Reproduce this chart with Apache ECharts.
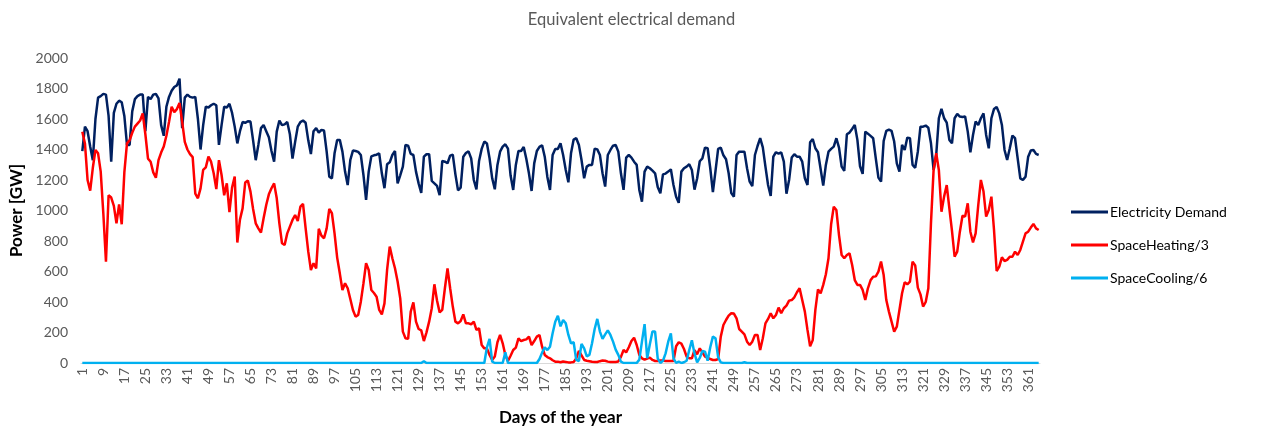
<!DOCTYPE html>
<html>
<head>
<meta charset="utf-8">
<script src="https://cdn.jsdelivr.net/npm/echarts@6/dist/echarts.min.js"></script>
<style>
  html, body { margin: 0; padding: 0; background: #fff; }
  #chart { width: 1263px; height: 428px; }
</style>
</head>
<body>
<div id="chart"></div>
<script>
// Daily equivalent electrical demand over one year, in GW.

const dayCount = 365;
const days = [];
for (let d = 1; d <= dayCount; d++) days.push(String(d));

const electricityDemand = [
  1390, 1550, 1520, 1420, 1330, 1600, 1740, 1750, 1765, 1760,
  1620, 1320, 1640, 1700, 1720, 1710, 1620, 1430, 1430, 1650,
  1730, 1750, 1760, 1760, 1520, 1745, 1730, 1760, 1765, 1735,
  1560, 1490, 1680, 1745, 1785, 1810, 1820, 1865, 1540, 1740,
  1760, 1745, 1740, 1745, 1600, 1400, 1560, 1680, 1675, 1690,
  1700, 1690, 1430, 1560, 1680, 1675, 1700, 1640, 1550, 1440,
  1520, 1580, 1575, 1585, 1583, 1460, 1330, 1430, 1540, 1560,
  1520, 1480, 1390, 1320, 1517, 1590, 1560, 1565, 1580, 1500,
  1340, 1450, 1550, 1580, 1590, 1575, 1460, 1370, 1520, 1540,
  1510, 1528, 1524, 1386, 1222, 1211, 1375, 1463, 1463, 1386,
  1255, 1167, 1331, 1393, 1390, 1384, 1364, 1233, 1070, 1255,
  1355, 1362, 1366, 1375, 1244, 1146, 1303, 1316, 1364, 1390,
  1178, 1231, 1288, 1430, 1425, 1371, 1364, 1255, 1178, 1115,
  1353, 1369, 1369, 1194, 1178, 1161, 1100, 1325, 1320, 1310,
  1360, 1366, 1237, 1132, 1150, 1353, 1377, 1388, 1342, 1200,
  1139, 1325, 1404, 1452, 1439, 1342, 1211, 1139, 1299, 1386,
  1419, 1434, 1406, 1229, 1135, 1299, 1390, 1390, 1417, 1338,
  1242, 1128, 1309, 1390, 1417, 1428, 1353, 1220, 1135, 1364,
  1404, 1404, 1441, 1364, 1266, 1185, 1375, 1465, 1474, 1430,
  1331, 1211, 1288, 1299, 1299, 1406, 1401, 1364, 1244, 1157,
  1364, 1397, 1425, 1430, 1386, 1244, 1135, 1347, 1364, 1347,
  1320, 1299, 1135, 1058, 1255, 1288, 1277, 1261, 1244, 1154,
  1113, 1237, 1242, 1255, 1270, 1167, 1090, 1050, 1255, 1277,
  1288, 1303, 1266, 1137, 1210, 1323, 1342, 1412, 1408, 1277,
  1120, 1260, 1404, 1412, 1362, 1336, 1244, 1115, 1090, 1364,
  1386, 1386, 1386, 1277, 1189, 1160, 1364, 1423, 1474, 1414,
  1288, 1167, 1095, 1353, 1382, 1373, 1382, 1320, 1110, 1200,
  1347, 1369, 1353, 1353, 1320, 1211, 1167, 1447, 1469, 1408,
  1382, 1272, 1163, 1299, 1386, 1404, 1419, 1474, 1412, 1288,
  1260, 1500, 1511, 1535, 1561, 1463, 1290, 1240, 1517, 1504,
  1489, 1474, 1342, 1216, 1189, 1456, 1522, 1530, 1522, 1452,
  1309, 1255, 1430, 1397, 1478, 1474, 1299, 1280, 1386, 1550,
  1550, 1557, 1543, 1441, 1266, 1364, 1605, 1666, 1605, 1576,
  1463, 1441, 1605, 1633, 1616, 1613, 1616, 1517, 1382, 1495,
  1583, 1561, 1605, 1637, 1495, 1408, 1605, 1666, 1679, 1637,
  1561, 1397, 1331, 1408, 1491, 1474, 1342, 1211, 1200, 1222,
  1353, 1393, 1397, 1371, 1364
];

const spaceHeating = [
  1517, 1440, 1200, 1130, 1280, 1397, 1375, 1255, 980, 665,
  1100, 1085, 1030, 916, 1040, 910, 1250, 1440, 1460, 1510,
  1550, 1570, 1590, 1637, 1500, 1340, 1320, 1250, 1215, 1330,
  1380, 1420, 1490, 1580, 1680, 1645, 1665, 1705, 1583, 1450,
  1400, 1370, 1350, 1110, 1080, 1145, 1266, 1283, 1353, 1320,
  1244, 1140, 1330, 1233, 1100, 1178, 990, 1150, 1222, 790,
  940, 1014, 1183, 1196, 1124, 1010, 916, 883, 855, 949,
  1036, 1106, 1146, 1178, 1080, 916, 785, 774, 850, 894,
  938, 970, 931, 1025, 1043, 883, 730, 610, 654, 621,
  880, 835, 818, 883, 1010, 982, 850, 691, 588, 479,
  523, 490, 420, 348, 304, 315, 402, 522, 654, 610,
  479, 459, 435, 348, 319, 391, 610, 763, 687, 621,
  534, 424, 206, 162, 158, 337, 398, 271, 223, 214,
  144, 201, 271, 359, 516, 410, 332, 348, 490, 621,
  490, 370, 271, 260, 275, 319, 260, 260, 254, 271,
  217, 228, 118, 96, 96, 53, 20, 42, 136, 184,
  129, 53, 13, 48, 85, 101, 162, 144, 151, 155,
  173, 118, 144, 173, 184, 107, 53, 39, 31, 18,
  9, 9, 5, 10, 7, 4, 4, 7, 30, 80,
  50, 20, 15, 12, 8, 7, 7, 12, 16, 15,
  9, 7, 7, 7, 10, 40, 85, 70, 103, 144,
  166, 118, 53, 31, 22, 29, 35, 20, 13, 13,
  17, 17, 13, 13, 13, 13, 110, 136, 127, 92,
  42, 31, 31, 85, 57, 96, 70, 42, 35, 26,
  20, 20, 26, 173, 249, 282, 311, 326, 324, 293,
  223, 206, 188, 140, 118, 140, 184, 184, 85, 162,
  260, 289, 326, 293, 315, 363, 326, 359, 376, 409,
  413, 431, 464, 490, 413, 337, 217, 110, 150, 348,
  483, 457, 512, 582, 687, 910, 1025, 1003, 839, 708,
  687, 708, 719, 643, 544, 512, 512, 479, 413, 490,
  542, 566, 568, 599, 665, 577, 413, 337, 271, 206,
  238, 348, 457, 529, 516, 534, 665, 640, 494, 450,
  370, 400, 490, 916, 1266, 1375, 1266, 992, 1091, 1167,
  1014, 866, 697, 730, 861, 966, 960, 1047, 861, 791,
  850, 1036, 1200, 1124, 960, 1003, 1091, 872, 603, 632,
  693, 669, 676, 697, 697, 730, 708, 741, 796, 850,
  861, 888, 912, 883, 872
];

const spaceCooling = [
  0, 0, 0, 0, 0, 0, 0, 0, 0, 0,
  0, 0, 0, 0, 0, 0, 0, 0, 0, 0,
  0, 0, 0, 0, 0, 0, 0, 0, 0, 0,
  0, 0, 0, 0, 0, 0, 0, 0, 0, 0,
  0, 0, 0, 0, 0, 0, 0, 0, 0, 0,
  0, 0, 0, 0, 0, 0, 0, 0, 0, 0,
  0, 0, 0, 0, 0, 0, 0, 0, 0, 0,
  0, 0, 0, 0, 0, 0, 0, 0, 0, 0,
  0, 0, 0, 0, 0, 0, 0, 0, 0, 0,
  0, 0, 0, 0, 0, 0, 0, 0, 0, 0,
  0, 0, 0, 0, 0, 0, 0, 0, 0, 0,
  0, 0, 0, 0, 0, 0, 0, 0, 0, 0,
  0, 0, 0, 0, 0, 0, 0, 0, 0, 0,
  12, 0, 0, 0, 0, 0, 0, 0, 0, 0,
  0, 0, 0, 0, 0, 0, 0, 0, 0, 0,
  0, 0, 0, 0, 103, 158, 9, 0, 0, 0,
  0, 70, 0, 0, 0, 0, 0, 0, 0, 0,
  0, 0, 0, 0, 26, 68, 103, 85, 107, 195,
  271, 310, 240, 282, 260, 184, 129, 136, 20, 13,
  125, 96, 44, 53, 129, 223, 289, 206, 158, 188,
  214, 184, 140, 88, 53, 9, 0, 0, 0, 0,
  0, 0, 22, 140, 255, 31, 123, 206, 206, 31,
  0, 15, 63, 140, 195, 31, 0, 9, 0, 5,
  15, 85, 149, 63, 4, 33, 79, 74, 15, 103,
  173, 162, 37, 4, 0, 0, 0, 0, 0, 0,
  0, 0, 5, 0, 0, 0, 0, 0, 0, 0,
  0, 0, 0, 0, 0, 0, 0, 0, 0, 0,
  0, 0, 0, 0, 0, 0, 0, 0, 0, 0,
  0, 0, 0, 0, 0, 0, 0, 0, 0, 0,
  0, 0, 0, 0, 0, 0, 0, 0, 0, 0,
  0, 0, 0, 0, 0, 0, 0, 0, 0, 0,
  0, 0, 0, 0, 0, 0, 0, 0, 0, 0,
  0, 0, 0, 0, 0, 0, 0, 0, 0, 0,
  0, 0, 0, 0, 0, 0, 0, 0, 0, 0,
  0, 0, 0, 0, 0, 0, 0, 0, 0, 0,
  0, 0, 0, 0, 0, 0, 0, 0, 0, 0,
  0, 0, 0, 0, 0
];

const seriesNames = ['Electricity Demand', 'SpaceHeating/3', 'SpaceCooling/6'];
const seriesColors = ['#002060', '#FF0000', '#00B0F0'];
const seriesData = [electricityDemand, spaceHeating, spaceCooling];

const FONT = 'Lato, "Noto Sans", sans-serif';

const chart = echarts.init(document.getElementById('chart'), null, { renderer: 'canvas' });

chart.setOption({
  animation: false,
  backgroundColor: '#ffffff',
  title: {
    text: 'Equivalent electrical demand',
    left: 'center',
    top: 6,
    textStyle: { fontFamily: FONT, fontSize: 16.5, fontWeight: 'normal', color: '#595959' }
  },
  legend: {
    orient: 'vertical',
    left: 1066,
    top: 198,
    itemWidth: 37,
    itemHeight: 3,
    itemGap: 15,
    icon: 'rect',
    data: seriesNames,
    textStyle: { fontFamily: FONT, fontSize: 14, color: '#000000', lineHeight: 18, padding: [0, 0, 0, -3] }
  },
  grid: { left: 81, right: 223, top: 58, bottom: 65, containLabel: false, outerBoundsMode: 'none' },
  xAxis: {
    type: 'category',
    data: days,
    boundaryGap: true,
    name: 'Days of the year',
    nameLocation: 'middle',
    nameGap: 46,
    nameTextStyle: { fontFamily: FONT, fontSize: 17, fontWeight: 'bold', color: '#000000' },
    axisLine: { show: true, lineStyle: { color: '#D9D9D9', width: 1 } },
    axisTick: { show: false },
    axisLabel: {
      interval: 7,
      rotate: 90,
      margin: 5,
      fontFamily: FONT,
      fontSize: 14,
      color: '#595959'
    },
    splitLine: { show: false }
  },
  yAxis: {
    type: 'value',
    min: 0,
    max: 2000,
    interval: 200,
    name: 'Power [GW]',
    nameLocation: 'middle',
    nameGap: 55,
    nameRotate: 90,
    nameTextStyle: { fontFamily: FONT, fontSize: 17, fontWeight: 'bold', color: '#000000' },
    axisLine: { show: false },
    axisTick: { show: false },
    axisLabel: {
      margin: 13,
      fontFamily: FONT,
      fontSize: 14,
      color: '#595959',
      formatter: (v) => String(v)
    },
    splitLine: { show: false }
  },
  series: seriesNames.map((name, i) => ({
    name: name,
    type: 'line',
    data: seriesData[i],
    showSymbol: false,
    symbol: 'none',
    smooth: false,
    color: seriesColors[i],
    lineStyle: { color: seriesColors[i], width: 2.5 },
    z: 2 + i
  }))
});
</script>
</body>
</html>
